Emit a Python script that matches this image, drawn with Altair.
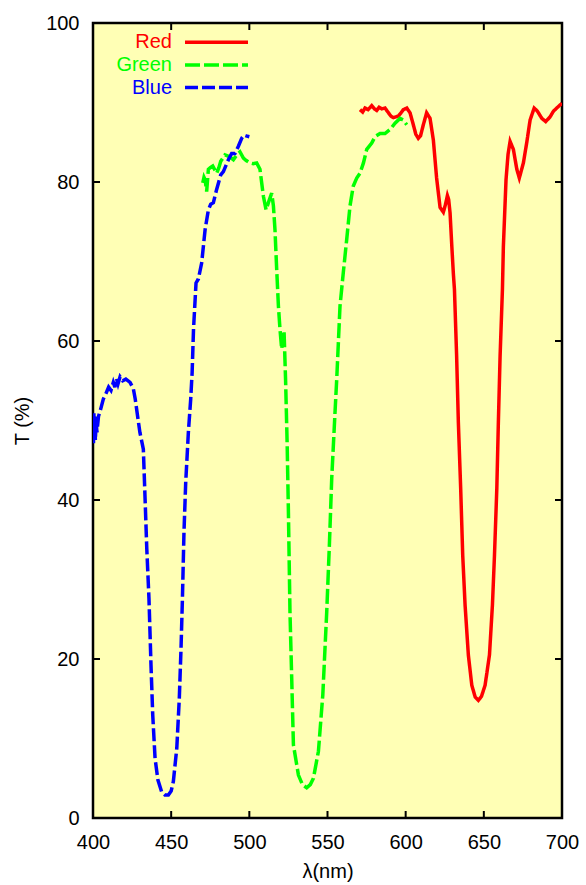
import altair as alt
import pandas as pd

# ---------------- data ----------------
series_names = ["Red", "Green", "Blue"]
series_colors = ["#ff0000", "#00ff00", "#0000ff"]

red_nm = [570.8, 572.5, 574, 576, 578.3, 580, 581.5, 583, 584.7, 586.8, 589, 590.5, 592.2, 595.3,
          597, 598.5, 600.7, 602.8, 604.9, 606.5, 608.1, 609.5, 611.3, 613.4, 615.6, 617.7, 619.8,
          622, 624.1, 625.5, 626.7, 627.5, 628.4, 629.5, 630.5, 631.2, 632.6, 633.7, 635.2, 636.5,
          638, 640.1, 642.3, 644.5, 646.5, 648.5, 650.8, 653.6, 655.5, 656.8, 658.3, 659.3, 660.4,
          661.9, 662.5, 664.2, 665.5, 666.8, 668.9, 671.1, 672.7, 675.3, 677.4, 679.6, 682.2,
          684.3, 687.1, 689.6, 692.4, 694.5, 697.7, 700]
red_T = [89.1, 88.8, 89.3, 89.1, 89.6, 89.2, 89.0, 89.4, 89.2, 89.3, 88.7, 88.3, 88.1, 88.3,
         88.7, 89.1, 89.3, 88.7, 87.2, 86.0, 85.5, 85.8, 87.2, 88.7, 88.0, 85.3, 80.5,
         76.8, 76.2, 77.2, 78.3, 77.8, 76.1, 72.0, 68.5, 66.5, 58.1, 49.8, 41.4, 33.0,
         26.8, 20.5, 16.7, 15.2, 14.8, 15.3, 16.7, 20.5, 26.8, 33.0, 41.4, 49.8, 58.1,
         66.5, 71.9, 80.3, 83.5, 85.1, 84.1, 81.6, 80.5, 82.4, 84.9, 87.8, 89.3,
         88.9, 88.0, 87.6, 88.2, 88.9, 89.5, 89.9]

green_nm = [470.2, 471, 471.7, 472.7, 473.8, 475, 476.6, 478, 479.1, 480.5, 481.7, 484.4, 487.2,
            489.8, 491.9, 494, 496.2, 498, 500.4, 502.5, 504.7, 506.8, 509, 510.7, 512.2, 514.3,
            515.4, 516.4, 517.5, 518.6, 519.6, 520.7, 522.2, 523.2, 524.2, 525, 526, 527.1, 528.2,
            531.4, 534, 536.7, 539, 541, 544.2, 547, 549.5, 551.2, 552.7, 554.8, 555.9, 558,
            560.1, 562.3, 564.4, 566.5, 568.7, 570.8, 573, 575.1, 578.3, 580.4, 583.6, 586.8,
            590, 593.2, 596.4, 598.5, 600.7]
green_T = [79.9, 80.6, 80.3, 78.8, 81.6, 81.8, 82.0, 81.5, 81.1, 81.8, 82.6, 83.4, 83.2,
           82.8, 83.4, 83.8, 83.0, 82.7, 82.4, 82.3, 82.4, 81.6, 78.2, 76.5, 77.4, 78.6,
           77.0, 74.0, 69.0, 64.4, 61.5, 59.0, 61.3, 55.0, 47.0, 38.5, 25.9, 17.6, 9.2,
           5.4, 4.2, 3.8, 4.2, 5.0, 8.4, 15.5, 25.9, 34.3, 42.7, 51.0, 55.2, 64.4,
           68.6, 72.8, 77.0, 79.5, 80.5, 81.1, 82.4, 84.1, 84.9, 85.7, 86.1, 86.1,
           86.6, 87.4, 88.0, 87.8, 87.2]

blue_nm = [400, 400.3, 400.6, 400.9, 401.2, 401.5, 402, 402.5, 403.5, 405, 406.6, 408.5, 410,
           411.5, 413, 414, 415, 416, 417.3, 419, 421, 423.7, 425.8, 427, 430, 432.2, 433.3,
           434.4, 435.8, 437.1, 438.2, 439.7, 441.5, 443.9, 446, 448.2, 450, 451.4, 453.6,
           455.2, 456.3, 457.2, 458.2, 459.3, 461, 462.5, 463.4, 464.3, 465.9, 467.4, 469.5,
           471.7, 473.8, 475.3, 477, 479, 481.7, 483.4, 486.6, 488.7, 490.8, 493, 495.1,
           496.6, 498, 500]
blue_T = [49.0, 47.0, 51.0, 48.0, 50.5, 47.5, 50.0, 48.5, 50.5, 51.5, 52.7, 53.5, 54.2,
          53.8, 54.8, 54.2, 55.3, 54.6, 55.5, 55.0, 55.2, 54.8, 54.0, 52.7, 48.5, 46.4, 40.2,
          33.9, 27.6, 19.2, 13.0, 7.5, 4.8, 3.3, 2.9, 2.9, 3.4, 4.6, 8.8,
          15.0, 21.3, 27.6, 36.0, 42.2, 48.5, 52.7, 56.0, 61.5, 67.3, 67.8, 69.8,
          74.0, 76.5, 77.2, 77.4, 79.0, 80.9, 81.3, 82.8, 83.6, 83.6, 84.5, 85.5,
          85.9, 85.8, 85.7]

x_ticks = [400, 450, 500, 550, 600, 650, 700]
y_ticks = [0, 20, 40, 60, 80, 100]
x_inner_ticks = [450, 500, 550, 600, 650]
y_inner_ticks = [20, 40, 60, 80]

# ---------------- build tables ----------------
frames = []
for name, xs, ys in [("Red", red_nm, red_T), ("Green", green_nm, green_T), ("Blue", blue_nm, blue_T)]:
    frames.append(pd.DataFrame({"nm": xs, "T": ys, "series": name}))
df = pd.concat(frames, ignore_index=True)

W, H = 469, 795
FONT = "Liberation Sans"
FS = 20
BG = "#ffffb5"

xscale = alt.Scale(domain=[400, 700], nice=False, zero=False)
yscale = alt.Scale(domain=[0, 100], nice=False)

lines = alt.Chart(df).mark_line(strokeWidth=3.5, clip=True).encode(
    x=alt.X("nm:Q", scale=xscale,
            axis=alt.Axis(values=x_ticks, title="λ(nm)", tickSize=0, domain=False, grid=False,
                          labelFontSize=FS, labelPadding=14, labelFlush=False, labelColor="black",
                          titleFontSize=FS, titleFontWeight="normal", titleColor="black",
                          titleY=53, titleBaseline="middle")),
    y=alt.Y("T:Q", scale=yscale,
            axis=alt.Axis(values=y_ticks, title="T (%)", tickSize=0, domain=False, grid=False,
                          labelFontSize=FS, labelPadding=14, labelColor="black",
                          titleFontSize=FS, titleFontWeight="normal", titleColor="black",
                          titleX=-71, titleY=H / 2, titleAngle=270, titleAlign="center",
                          titleBaseline="middle")),
    color=alt.Color("series:N", scale=alt.Scale(domain=series_names, range=series_colors), legend=None),
    strokeDash=alt.StrokeDash("series:N", scale=alt.Scale(domain=series_names,
                                                          range=[[1, 0], [15, 4], [13, 4]]),
                              legend=None),
    detail="series:N",
)

xt = pd.DataFrame({"nm": x_inner_ticks})
yt = pd.DataFrame({"T": y_inner_ticks})
TL = 7
tick_x_bottom = alt.Chart(xt).mark_rule(color="black", strokeWidth=2).encode(
    x=alt.X("nm:Q", scale=xscale), y=alt.value(H), y2=alt.value(H - TL))
tick_x_top = alt.Chart(xt).mark_rule(color="black", strokeWidth=2).encode(
    x=alt.X("nm:Q", scale=xscale), y=alt.value(0), y2=alt.value(TL))
tick_y_left = alt.Chart(yt).mark_rule(color="black", strokeWidth=2).encode(
    y=alt.Y("T:Q", scale=yscale), x=alt.value(0), x2=alt.value(TL))
tick_y_right = alt.Chart(yt).mark_rule(color="black", strokeWidth=2).encode(
    y=alt.Y("T:Q", scale=yscale), x=alt.value(W), x2=alt.value(W - TL))

legend_layers = []
dashes = [[1, 0], [15, 4], [13, 4]]
for i, (name, col) in enumerate(zip(series_names, series_colors)):
    ly = 19.3 + 22.6 * i
    ldf = pd.DataFrame({"label": [name]})
    legend_layers.append(
        alt.Chart(ldf).mark_text(align="right", baseline="middle", fontSize=FS, font=FONT, color=col).encode(
            text="label:N", x=alt.value(79), y=alt.value(ly)))
    legend_layers.append(
        alt.Chart(ldf).mark_rule(color=col, strokeWidth=3.5, strokeDash=dashes[i]).encode(
            x=alt.value(92), x2=alt.value(155), y=alt.value(ly)))

chart = alt.layer(lines, tick_x_bottom, tick_x_top, tick_y_left, tick_y_right, *legend_layers).properties(
    width=W, height=H,
    padding={"left": 93, "top": 23, "right": 24, "bottom": 67},
    autosize=alt.AutoSizeParams(type="none"),
    background="white",
).configure(
    font=FONT
).configure_view(
    fill=BG, stroke="black", strokeWidth=2.5
)

chart.save("out.html", embed_options={"renderer": "svg", "actions": False})
